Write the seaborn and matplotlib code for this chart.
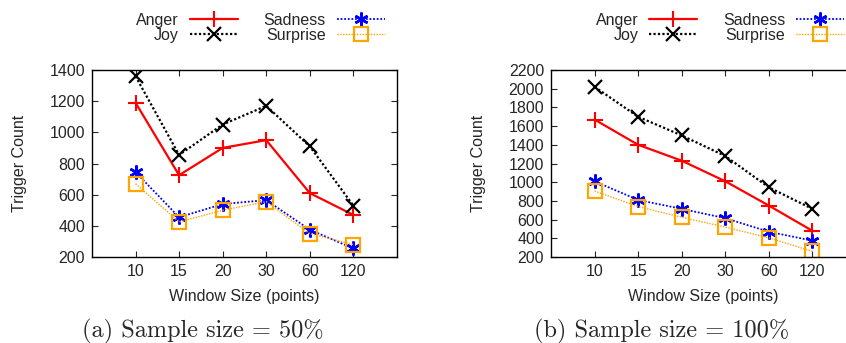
import matplotlib
matplotlib.use("Agg")
import matplotlib.pyplot as plt
import seaborn as sns
import pandas as pd

# window sizes (x categories)
windows = ["10", "15", "20", "30", "60", "120"]

# (a) sample size 50%
anger_50 = [1190, 725, 900, 950, 610, 470]
joy_50 = [1360, 855, 1050, 1170, 910, 530]
sadness_50 = [745, 455, 540, 565, 375, 255]
surprise_50 = [670, 425, 500, 555, 350, 280]

# (b) sample size 100%
anger_100 = [1670, 1400, 1230, 1010, 750, 480]
joy_100 = [2020, 1700, 1500, 1280, 945, 715]
sadness_100 = [1010, 810, 715, 615, 470, 375]
surprise_100 = [905, 740, 625, 520, 405, 260]

emotions = ["Anger", "Joy", "Sadness", "Surprise"]

sns.set_style("ticks")
plt.rcParams["font.family"] = ["Liberation Sans", "DejaVu Sans"]
fs = 11.5

styles = {
    "Anger": dict(color="red", marker="+", ls="-", lw=1.6, ms=11, mew=1.5),
    "Joy": dict(color="black", marker="x", ls=(0, (1, 1)), lw=1.6, ms=9.5, mew=1.6),
    "Sadness": dict(color="blue", marker=(6, 2, 0), ls=(0, (1, 1)), lw=1.3, ms=10, mew=1.8),
    "Surprise": dict(color="orange", marker="s", ls=(0, (1, 1)), lw=1.0, ms=10, mew=1.6,
                     mfc="none"),
}

fig = plt.figure(figsize=(8.46, 3.43), dpi=100)
ax_a = fig.add_axes([0.1087, 0.2507, 0.3605, 0.5452])
ax_b = fig.add_axes([0.6513, 0.2507, 0.3605, 0.5452])

panels = [
    (ax_a, [anger_50, joy_50, sadness_50, surprise_50], (200, 1400), "(a) Sample size = 50%", 0.240, 0.468),
    (ax_b, [anger_100, joy_100, sadness_100, surprise_100], (200, 2200), "(b) Sample size = 100%", 0.782, 1.011),
]

for ax, series, ylim, caption, cap_x, leg_x in panels:
    df = pd.DataFrame({"window": windows})
    for name, vals in zip(emotions, series):
        df[name] = vals
    long_df = df.melt(id_vars="window", var_name="emotion", value_name="count")
    for name in emotions:
        sub = long_df[long_df["emotion"] == name]
        st = dict(styles[name])
        sns.lineplot(data=sub, x="window", y="count", ax=ax, sort=False,
                     color=st.pop("color"), marker=st.pop("marker"),
                     linestyle=st.pop("ls"), linewidth=st.pop("lw"),
                     markersize=st.pop("ms"), markeredgewidth=st.pop("mew"),
                     markeredgecolor=styles[name]["color"], label=name, **st)
    ax.set_xlim(-1, 6)
    ax.set_ylim(*ylim)
    ax.set_yticks(range(ylim[0], ylim[1] + 1, 200))
    ax.set_xlabel("Window Size (points)", fontsize=fs, labelpad=7)
    ax.set_ylabel("Trigger Count", fontsize=fs, labelpad=16)
    ax.tick_params(direction="in", length=4, width=0.8, top=True, right=True,
                   labelsize=fs, pad=5)
    for sp in ax.spines.values():
        sp.set_visible(True)
        sp.set_linewidth(1.0)
        sp.set_color("black")
    ax.get_legend().remove()
    handles, labels = ax.get_legend_handles_labels()
    fig.legend(handles, labels, loc="upper right", bbox_to_anchor=(leg_x, 0.995),
               ncol=2, frameon=False, markerfirst=False, handlelength=3.0,
               handletextpad=0.7, columnspacing=1.6, labelspacing=0.0,
               fontsize=fs, numpoints=1, borderaxespad=0.3)
    fig.text(cap_x, 0.035, caption, ha="center", va="center",
             family="cmr10", fontsize=17.5)

fig.savefig("out.png", dpi=100)
